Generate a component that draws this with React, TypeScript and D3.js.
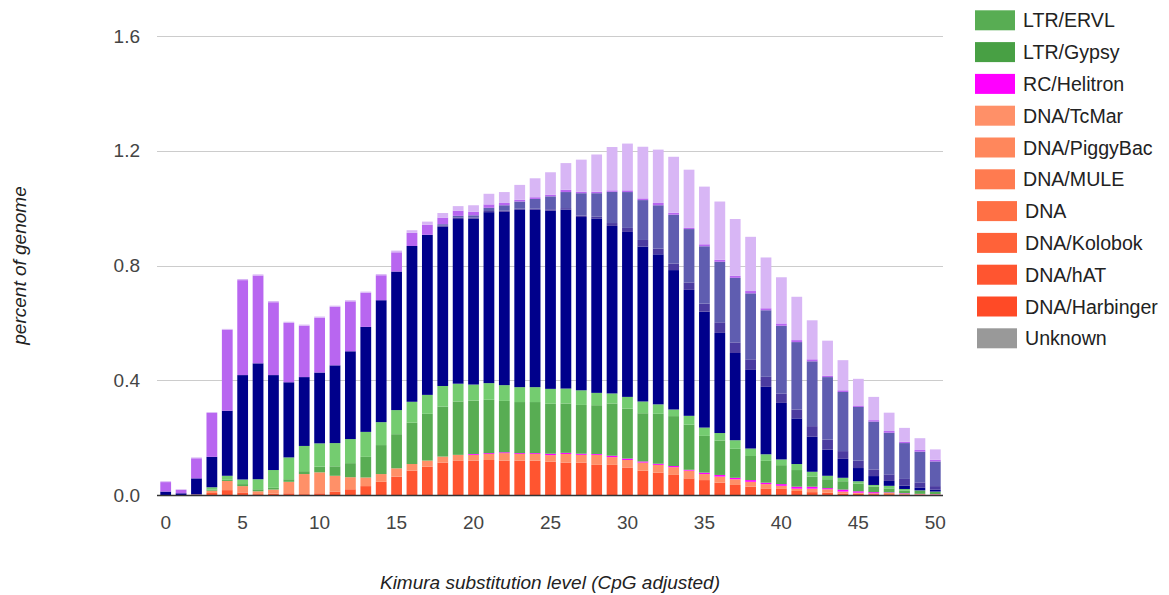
import React from "react";
import * as d3 from "d3";

// Kimura substitution level bins (0..50)
const kimuraLevels: number[] = d3.range(0, 51);

// percent of genome per repeat family, one value per Kimura bin
const dnaHAT = [0, 0, 0, 0.007, 0.017, 0.009, 0.003, 0.005, 0.006, 0.003, 0.006, 0.012, 0.02, 0.031, 0.046, 0.064, 0.085, 0.099, 0.113, 0.119, 0.12, 0.122, 0.12, 0.12, 0.12, 0.116, 0.113, 0.113, 0.105, 0.105, 0.096, 0.085, 0.078, 0.07, 0.058, 0.052, 0.043, 0.035, 0.029, 0.023, 0.023, 0.014, 0.01, 0.008, 0.005, 0.004, 0.003, 0.003, 0.002, 0.001, 0.001];
const dnaTcMar = [0, 0, 0.002, 0.008, 0.032, 0.022, 0.01, 0.014, 0.04, 0.07, 0.073, 0.055, 0.042, 0.03, 0.027, 0.029, 0.023, 0.021, 0.021, 0.021, 0.02, 0.021, 0.026, 0.023, 0.023, 0.023, 0.03, 0.027, 0.035, 0.027, 0.026, 0.028, 0.027, 0.027, 0.027, 0.021, 0.021, 0.02, 0.017, 0.015, 0.009, 0.008, 0.012, 0.012, 0.007, 0.004, 0.003, 0.004, 0.002, 0.002, 0.001];
const rcHelitron = [0, 0, 0, 0, 0, 0, 0, 0, 0, 0, 0, 0, 0, 0, 0, 0, 0, 0, 0, 0, 0.003, 0.003, 0.003, 0.003, 0.003, 0.005, 0.004, 0.004, 0.003, 0.005, 0.005, 0.004, 0.004, 0.004, 0.003, 0.005, 0.006, 0.005, 0.006, 0.005, 0.006, 0.007, 0.007, 0.004, 0.007, 0.005, 0.004, 0.002, 0.002, 0.001, 0.001];
const ltrERVL = [0, 0, 0, 0.004, 0.004, 0.007, 0.007, 0.006, 0.009, 0.01, 0.02, 0.033, 0.049, 0.072, 0.101, 0.119, 0.144, 0.163, 0.174, 0.186, 0.186, 0.186, 0.179, 0.178, 0.178, 0.174, 0.172, 0.17, 0.17, 0.182, 0.174, 0.168, 0.174, 0.174, 0.157, 0.128, 0.12, 0.101, 0.084, 0.076, 0.066, 0.058, 0.035, 0.031, 0.029, 0.027, 0.019, 0.014, 0.009, 0.01, 0.008];
const ltrERVK = [0, 0, 0, 0.008, 0.014, 0.016, 0.035, 0.062, 0.076, 0.088, 0.081, 0.081, 0.084, 0.087, 0.08, 0.084, 0.073, 0.066, 0.072, 0.062, 0.056, 0.058, 0.055, 0.052, 0.052, 0.052, 0.052, 0.051, 0.043, 0.035, 0.041, 0.041, 0.033, 0.023, 0.031, 0.029, 0.026, 0.03, 0.026, 0.023, 0.02, 0.021, 0.017, 0.012, 0.012, 0.008, 0.006, 0.009, 0.006, 0.002, 0.001];
const lineL1 = [0.012, 0.006, 0.056, 0.106, 0.227, 0.364, 0.404, 0.331, 0.262, 0.24, 0.247, 0.271, 0.306, 0.366, 0.425, 0.483, 0.543, 0.558, 0.555, 0.574, 0.578, 0.596, 0.604, 0.618, 0.618, 0.621, 0.624, 0.604, 0.608, 0.584, 0.575, 0.54, 0.523, 0.486, 0.439, 0.404, 0.349, 0.304, 0.274, 0.235, 0.197, 0.159, 0.122, 0.091, 0.066, 0.046, 0.031, 0.017, 0.012, 0.009, 0.007];
const lineCR1 = [0, 0, 0, 0, 0, 0, 0, 0, 0, 0, 0, 0, 0, 0, 0, 0, 0, 0, 0.004, 0.005, 0.004, 0.004, 0.004, 0.004, 0.004, 0.005, 0.005, 0.005, 0.006, 0.01, 0.014, 0.023, 0.02, 0.023, 0.026, 0.028, 0.037, 0.037, 0.037, 0.035, 0.033, 0.031, 0.037, 0.035, 0.027, 0.026, 0.023, 0.023, 0.023, 0.019, 0.012];
const lineL2 = [0, 0, 0, 0, 0, 0, 0, 0, 0, 0, 0, 0, 0, 0, 0, 0, 0, 0, 0.005, 0.006, 0.008, 0.011, 0.019, 0.025, 0.034, 0.045, 0.056, 0.078, 0.082, 0.109, 0.125, 0.139, 0.151, 0.17, 0.186, 0.2, 0.211, 0.225, 0.23, 0.232, 0.236, 0.235, 0.226, 0.218, 0.206, 0.187, 0.167, 0.145, 0.125, 0.107, 0.086];
const sineAlu = [0.033, 0.012, 0.07, 0.153, 0.282, 0.331, 0.306, 0.254, 0.207, 0.179, 0.191, 0.204, 0.174, 0.119, 0.087, 0.067, 0.046, 0.035, 0.023, 0.018, 0.012, 0.012, 0.008, 0.006, 0.006, 0.006, 0.008, 0.005, 0.005, 0.005, 0.006, 0.006, 0.008, 0.007, 0.004, 0.007, 0.007, 0.007, 0.008, 0.007, 0.008, 0.007, 0.007, 0.005, 0.006, 0.005, 0.005, 0.006, 0.005, 0.006, 0.006];
const sineMIR = [0.003, 0.002, 0.003, 0.003, 0.003, 0.004, 0.004, 0.004, 0.004, 0.004, 0.004, 0.004, 0.004, 0.004, 0.004, 0.006, 0.009, 0.011, 0.016, 0.016, 0.023, 0.037, 0.038, 0.052, 0.066, 0.078, 0.093, 0.112, 0.13, 0.151, 0.163, 0.18, 0.186, 0.195, 0.203, 0.201, 0.203, 0.198, 0.189, 0.177, 0.161, 0.151, 0.136, 0.122, 0.105, 0.093, 0.081, 0.064, 0.048, 0.041, 0.036];

// stacking order, bottom to top
const seriesKeys = ["DNA/hAT", "DNA/TcMar", "RC/Helitron", "LTR/ERVL", "LTR/ERVK", "LINE/L1", "LINE/CR1", "LINE/L2", "SINE/Alu", "SINE/MIR"];
const seriesValues = [dnaHAT, dnaTcMar, rcHelitron, ltrERVL, ltrERVK, lineL1, lineCR1, lineL2, sineAlu, sineMIR];

const colors: Record<string, string> = {
  "LTR/ERVL": "#58ad53",
  "LTR/Gypsy": "#48a044",
  "RC/Helitron": "#ff00ff",
  "DNA/TcMar": "#ff9068",
  "DNA/PiggyBac": "#ff875c",
  "DNA/MULE": "#ff7b50",
  "DNA": "#ff7045",
  "DNA/Kolobok": "#ff6239",
  "DNA/hAT": "#ff5530",
  "DNA/Harbinger": "#ff4a26",
  "Unknown": "#999999",
  "LTR/ERVK": "#74cc70",
  "LINE/L1": "#00008b",
  "LINE/CR1": "#4b3ba0",
  "LINE/L2": "#5f5db0",
  "SINE/Alu": "#b866f0",
  "SINE/MIR": "#d8b6f5",
};

const legendNames = ["LTR/ERVL", "LTR/Gypsy", "RC/Helitron", "DNA/TcMar", "DNA/PiggyBac", "DNA/MULE", "DNA", "DNA/Kolobok", "DNA/hAT", "DNA/Harbinger", "Unknown"];

const yTicks = [0, 0.4, 0.8, 1.2, 1.6];
const xTicks = [0, 5, 10, 15, 20, 25, 30, 35, 40, 45, 50];

const W = 1169;
const H = 595;
const plot = { left: 157, right: 943, top: 36, bottom: 495 };
const FONT = "'Liberation Sans', Arial, sans-serif";

export default function App() {
  const rows = kimuraLevels.map((k, i) => {
    const r: Record<string, number> = { k };
    seriesKeys.forEach((key, s) => (r[key] = seriesValues[s][i]));
    return r;
  });
  const stacked = d3.stack<Record<string, number>>().keys(seriesKeys)(rows);

  const x = d3
    .scaleBand<number>()
    .domain(kimuraLevels)
    .range([plot.left + 1, plot.right])
    .paddingInner(0.3)
    .paddingOuter(0.15);
  const y = d3.scaleLinear().domain([0, 1.6]).range([plot.bottom, plot.top]);
  const xc = (k: number) => (x(k) as number) + x.bandwidth() / 2;

  return (
    <svg
      width={W}
      height={H}
      style={{ position: "absolute", left: 0, top: 0, background: "#fff" }}
      fontFamily={FONT}
    >
      {/* grid lines */}
      {yTicks.map((t) => (
        <line
          key={t}
          x1={plot.left}
          x2={plot.right}
          y1={Math.round(y(t)) + 0.5}
          y2={Math.round(y(t)) + 0.5}
          stroke="#cccccc"
          strokeWidth={1}
        />
      ))}
      {/* y tick labels */}
      {yTicks.map((t) => (
        <text
          key={"yl" + t}
          x={140}
          y={y(t)}
          textAnchor="end"
          dominantBaseline="central"
          fontSize={19}
          fill="#444"
        >
          {t.toFixed(1)}
        </text>
      ))}
      {/* stacked bars */}
      {stacked.map((layer) => (
        <g key={layer.key} fill={colors[layer.key]}>
          {layer.map((d, i) => {
            const h = y(d[0]) - y(d[1]);
            if (h <= 0) return null;
            return (
              <rect
                key={i}
                x={x(kimuraLevels[i])}
                y={y(d[1])}
                width={x.bandwidth()}
                height={h}
              />
            );
          })}
        </g>
      ))}
      {/* baseline */}
      <line x1={plot.left} x2={plot.right} y1={plot.bottom + 0.5} y2={plot.bottom + 0.5} stroke="#333" strokeWidth={1.5} />
      {/* x tick labels */}
      {xTicks.map((t) => (
        <text key={"xl" + t} x={xc(t)} y={522} textAnchor="middle" dominantBaseline="central" fontSize={19} fill="#444">
          {t}
        </text>
      ))}
      {/* axis titles */}
      <text x={550} y={582} textAnchor="middle" dominantBaseline="central" fontSize={19} fontStyle="italic" fill="#222">
        Kimura substitution level (CpG adjusted)
      </text>
      <text
        transform={`translate(19, ${(plot.top + plot.bottom) / 2}) rotate(-90)`}
        textAnchor="middle"
        dominantBaseline="central"
        fontSize={19}
        fontStyle="italic"
        fill="#222"
      >
        percent of genome
      </text>
      {/* legend */}
      {legendNames.map((name, i) => {
        const cy = 20.3 + 31.8 * i;
        const bx = i < 6 ? 975 : 977;
        return (
          <g key={name}>
            <rect x={bx} y={cy - 10} width={40} height={20} fill={colors[name]} />
            <text x={bx + 48} y={cy} dominantBaseline="central" fontSize={19.6} fill="#222">
              {name}
            </text>
          </g>
        );
      })}
    </svg>
  );
}
